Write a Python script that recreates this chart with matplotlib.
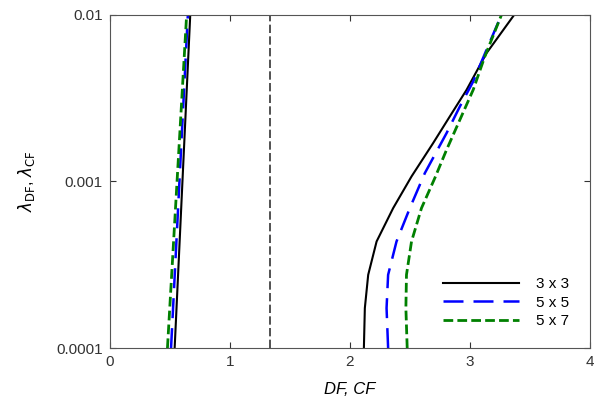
import numpy as np
import matplotlib
matplotlib.use("Agg")
import matplotlib.pyplot as plt

plt.rcParams['font.family'] = ['Liberation Sans', 'DejaVu Sans']

# left branch (DF), lambda from 1e-4 to 1e-2
lam_left = [1e-4, 1e-2]
df_3x3 = [0.54, 0.67]
df_5x5 = [0.51, 0.65]
df_5x7 = [0.48, 0.64]

# right branch (CF), log10(lambda) and CF values
cf_3x3_logl = [-4.0, -3.76, -3.56, -3.36, -3.16, -2.97, -2.77, -2.61, -2.45, -2.23, -2.0]
cf_3x3 = [2.117, 2.125, 2.153, 2.223, 2.361, 2.514, 2.694, 2.833, 2.973, 3.139, 3.37]
cf_5x5_logl = [-4.0, -3.76, -3.56, -3.36, -3.16, -2.95, -2.71, -2.55, -2.40, -2.21, -2.0]
cf_5x5 = [2.319, 2.306, 2.319, 2.389, 2.50, 2.625, 2.806, 2.917, 3.028, 3.139, 3.264]
cf_5x7_logl = [-4.0, -3.76, -3.56, -3.36, -3.16, -2.98, -2.81, -2.63, -2.45, -2.25, -2.0]
cf_5x7 = [2.478, 2.467, 2.472, 2.514, 2.597, 2.708, 2.806, 2.917, 3.028, 3.125, 3.264]

vline_x = 1.333

fig = plt.figure(figsize=(5.97, 4.11), dpi=100)
ax = fig.add_axes([0.184, 0.153, 0.804, 0.811])

ax.plot(df_3x3, lam_left, color='black', lw=1.5)
ax.plot(df_5x5, lam_left, color='blue', lw=1.8, dashes=(8, 4))
ax.plot(df_5x7, lam_left, color='green', lw=2.0, dashes=(3.5, 1.5))

ax.plot(cf_3x3, 10 ** np.array(cf_3x3_logl), color='black', lw=1.5, label='3 x 3')
ax.plot(cf_5x5, 10 ** np.array(cf_5x5_logl), color='blue', lw=1.8, dashes=(8, 4), label='5 x 5')
ax.plot(cf_5x7, 10 ** np.array(cf_5x7_logl), color='green', lw=2.0, dashes=(3.5, 1.5), label='5 x 7')

ax.axvline(vline_x, color='#333333', lw=1.2, dashes=(5, 2))

ax.set_yscale('log')
ax.set_xlim(0, 4)
ax.set_ylim(1e-4, 1e-2)
ax.set_xticks([0, 1, 2, 3, 4])
ax.set_xticklabels(['0', '1', '2', '3', '4'])
ax.set_yticks([1e-4, 1e-3, 1e-2])
ax.set_yticklabels(['0.0001', '0.001', '0.01'])
ax.minorticks_off()
ax.tick_params(direction='in', length=4, top=True, right=True, labelsize=11, colors='#333333', pad=5)
for s in ax.spines.values():
    s.set_color('#555555')

ax.set_xlabel('DF, CF', fontstyle='italic', fontsize=12, labelpad=9)
ax.set_ylabel(r'$\lambda_{\mathrm{DF}}$, $\lambda_{\mathrm{CF}}$', fontsize=12, labelpad=14)

ax.legend(loc='lower right', frameon=False, fontsize=11, handlelength=5.0,
          handletextpad=1.1, labelspacing=0.3, bbox_to_anchor=(0.985, 0.018))

fig.savefig('out.png', dpi=100)
